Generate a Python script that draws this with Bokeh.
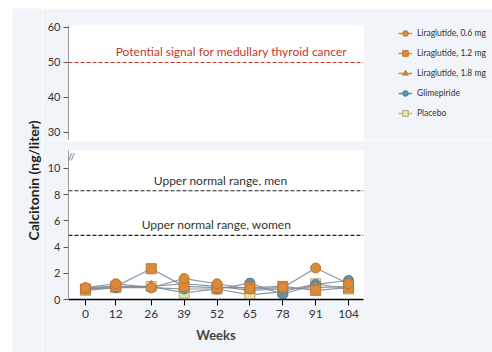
from bokeh.plotting import figure
from bokeh.layouts import column, row
from bokeh.models import Span, Label, Legend, LegendItem, FixedTicker, Spacer
from bokeh.embed import file_html
from bokeh.resources import INLINE

weeks = [0, 12, 26, 39, 52, 65, 78, 91, 104]
week_labels = ["0", "12", "26", "39", "52", "65", "78", "91", "104"]
lira06 = [0.9, 1.2, 0.9, 1.6, 1.2, 0.8, 0.9, 2.4, 1.2]
lira12 = [0.8, 1.0, 2.35, 1.0, 0.9, 0.9, 1.0, 0.7, 0.9]
lira18 = [0.9, 1.0, 1.0, 1.2, 1.0, 0.7, 0.8, 0.9, 1.0]
glim = [0.8, 0.9, 0.9, 0.8, 0.8, 1.25, 0.4, 1.15, 1.45]
placebo = [0.7, 0.9, 1.0, 0.5, 0.8, 0.35, 0.6, 1.2, 0.8]

series = [
    ("Liraglutide, 0.6 mg", lira06, "circle", "#d98b3a", "#c27430", "#d98b3a"),
    ("Liraglutide, 1.2 mg", lira12, "square", "#d98b3a", "#c27430", "#d98b3a"),
    ("Liraglutide, 1.8 mg", lira18, "triangle", "#d98b3a", "#c27430", "#d98b3a"),
    ("Glimepiride", glim, "circle", "#5e91ad", "#4f7f99", "#5e91ad"),
    ("Placebo", placebo, "square", "#eee3a6", "#b3a66a", "#c9bd80"),
]

signal_level = 50
men_level = 8.3
women_level = 4.9
y_ticks_low = [0, 2, 4, 6, 8, 10]
y_ticks_high = [30, 40, 50, 60]

BG = "#f1f4f8"
FONT = "Lato"
XR = (-6.7, 109.9)
LEFT, RIGHT, FW = 26, 129, 295


def style_yaxis(ax, ticks):
    ax.ticker = FixedTicker(ticks=ticks)
    ax.axis_line_color = "#9a9a9a"
    ax.major_tick_line_color = "#555555"
    ax.major_tick_out = 5
    ax.major_tick_in = 0
    ax.minor_tick_line_color = None
    ax.major_label_standoff = 3
    ax.major_label_text_font = FONT
    ax.major_label_text_font_size = "11px"
    ax.major_label_text_color = "#333333"


# upper part of the broken axis
up = figure(frame_width=FW, frame_height=115, x_range=XR, y_range=(27.71, 60.57),
            output_backend="svg", toolbar_location=None, x_axis_location=None,
            min_border_left=LEFT, min_border_right=RIGHT, min_border_top=17,
            min_border_bottom=0, background_fill_color="white", border_fill_color=BG,
            outline_line_color=None)
up.grid.visible = False
style_yaxis(up.yaxis[0], y_ticks_high)

items = []
for name, vals, marker, fill, line, lcol in series:
    r1 = up.line(weeks, vals, line_color=lcol, line_width=1.5)
    r2 = up.scatter(weeks, vals, marker=marker, size=10, fill_color=fill, line_color=line)
    items.append(LegendItem(label=name, renderers=[r1, r2]))

legend = Legend(items=items, location=(35, 19), padding=0, margin=0, spacing=4,
                glyph_width=14, glyph_height=16, label_height=16, label_standoff=5,
                background_fill_alpha=0, border_line_color=None,
                label_text_font=FONT, label_text_font_size="8.5px", label_text_color="#333333")
up.add_layout(legend, "right")

up.add_layout(Span(location=signal_level, dimension="width", line_color="#c0392b",
                   line_dash="4 2", line_width=1.2))
up.add_layout(Label(x=57.7, y=signal_level, y_offset=3, text="Potential signal for medullary thyroid cancer",
                    text_align="center", text_baseline="bottom", text_color="#c0392b",
                    text_font=FONT, text_font_size="12px"))

# lower part
lo = figure(frame_width=FW, frame_height=149, x_range=XR, y_range=(0, 11.37),
            output_backend="svg", toolbar_location=None,
            min_border_left=LEFT, min_border_right=RIGHT, min_border_top=10,
            min_border_bottom=53, background_fill_color="white", border_fill_color=BG,
            outline_line_color=None)
lo.grid.visible = False
style_yaxis(lo.yaxis[0], y_ticks_low)
xa = lo.xaxis[0]
xa.ticker = FixedTicker(ticks=weeks)
xa.major_label_overrides = {w: l for w, l in zip(weeks, week_labels)}
xa.axis_line_color = "black"
xa.axis_line_width = 1.6
xa.major_tick_line_color = "black"
xa.major_tick_out = 6
xa.major_tick_in = 0
xa.minor_tick_line_color = None
xa.major_label_standoff = 4
xa.major_label_text_font = FONT
xa.major_label_text_font_size = "12px"
xa.major_label_text_color = "#333333"
xa.axis_label = "Weeks"
xa.axis_label_text_font = FONT
xa.axis_label_text_font_style = "bold"
xa.axis_label_text_font_size = "13px"
xa.axis_label_standoff = 6

for lvl, txt, xc in [(men_level, "Upper normal range, men", 53.4),
                     (women_level, "Upper normal range, women", 51.8)]:
    lo.add_layout(Span(location=lvl, dimension="width", line_color="#222222",
                       line_dash="4 2", line_width=1.2))
    lo.add_layout(Label(x=xc, y=lvl, y_offset=3, text=txt, text_align="center",
                        text_baseline="bottom", text_color="#333333",
                        text_font=FONT, text_font_size="12px"))

for name, vals, marker, fill, line, lcol in series:
    lo.line(weeks, vals, line_color="#7d8b99", line_width=1.2, line_alpha=0.9)
for name, vals, marker, fill, line, lcol in reversed(series):
    lo.scatter(weeks, vals, marker=marker, size=10, fill_color=fill, line_color=line)

lo.add_layout(Label(x=XR[0], y=11.37, y_offset=-5, x_offset=3, text="//", text_align="center",
                    text_baseline="middle", text_color="#666666", text_font=FONT,
                    text_font_size="10px"))

# y-axis title strip
lab = figure(width=30, height=344, x_range=(0, 30), y_range=(0, 344), min_border=0,
             output_backend="svg", toolbar_location=None, x_axis_location=None,
             y_axis_location=None, outline_line_color=None,
             background_fill_color=BG, border_fill_color=BG)
lab.grid.visible = False
lab.add_layout(Label(x=21, y=172, text="Calcitonin (ng/liter)", angle=1.5708,
                     text_align="center", text_baseline="middle", text_color="#222222",
                     text_font=FONT, text_font_style="bold", text_font_size="14px"))

layout = column(Spacer(height=8, width=492),
                row(Spacer(width=12, height=344), lab, column(up, lo)))
open("out.html", "w").write(file_html(layout, INLINE))
